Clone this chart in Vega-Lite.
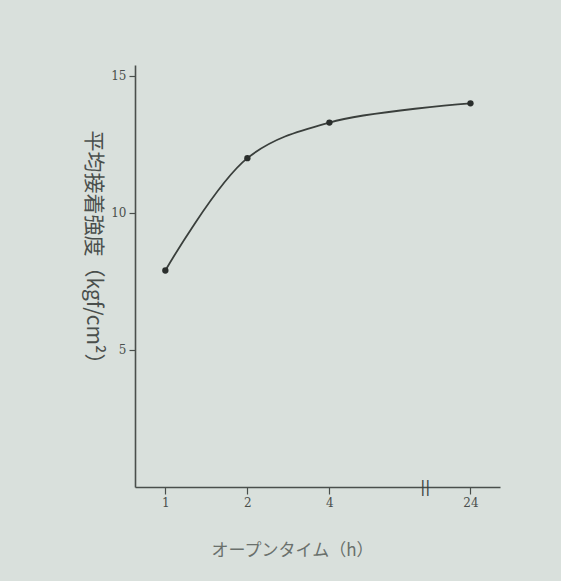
{
  "$schema": "https://vega.github.io/schema/vega-lite/v6.json",
  "width": 365,
  "height": 422,
  "autosize": {"type": "none"},
  "padding": {"left": 135, "top": 65, "right": 61, "bottom": 94},
  "background": "#d9e0dc",
  "config": {
    "view": {"stroke": null},
    "font": "Noto Sans CJK JP",
    "axis": {
      "domainColor": "#4a4f4c",
      "domainWidth": 1.6,
      "tickColor": "#4a4f4c",
      "tickWidth": 1.2,
      "grid": false,
      "labelColor": "#4a4f4c",
      "titleColor": "#5a605c",
      "labelFont": "DejaVu Serif",
      "titleFontWeight": "normal"
    }
  },
  "data": {
    "values": [
      {"hours": "1", "pos": 1, "strength": 7.9},
      {"hours": "2", "pos": 2, "strength": 12.0},
      {"hours": "4", "pos": 3, "strength": 13.3},
      {"hours": "24", "pos": 4.72, "strength": 14.0}
    ]
  },
  "layer": [
    {
      "mark": {"type": "line", "interpolate": "catmull-rom", "color": "#3a3f3c", "strokeWidth": 1.8},
      "encoding": {
        "x": {
          "field": "pos",
          "type": "quantitative",
          "scale": {"domain": [0.63, 5.08], "nice": false, "zero": false},
          "axis": {
            "values": [1, 2, 3, 4.72],
            "labelExpr": "datum.value == 1 ? '1' : datum.value == 2 ? '2' : datum.value == 3 ? '4' : '24'",
            "labelFontSize": 12,
            "tickSize": 7,
            "labelPadding": 3,
            "title": "オープンタイム（h）",
            "titleFontSize": 17,
            "titleColor": "#6a706c",
            "titleX": 157,
            "titleY": 55
          }
        },
        "y": {
          "field": "strength",
          "type": "quantitative",
          "scale": {"domain": [0, 15.4], "nice": false},
          "axis": {
            "values": [5, 10, 15],
            "labelFontSize": 12,
            "tickSize": 6,
            "labelPadding": 3,
            "title": "平均接着強度（kgf/cm²）",
            "titleFontSize": 21,
            "titleColor": "#4a4f4c",
            "titleAngle": 90,
            "titleX": -53,
            "titleY": 187
          }
        }
      }
    },
    {
      "mark": {"type": "point", "filled": true, "color": "#2a2e2c", "size": 40, "opacity": 1},
      "encoding": {
        "x": {"field": "pos", "type": "quantitative"},
        "y": {"field": "strength", "type": "quantitative"}
      }
    },
    {
      "data": {"values": [{"pos": 4.17, "strength": 0, "mark": "||"}]},
      "mark": {"type": "text", "color": "#3a3f3c", "fontSize": 15, "baseline": "middle", "font": "DejaVu Sans"},
      "encoding": {
        "x": {"field": "pos", "type": "quantitative"},
        "y": {"field": "strength", "type": "quantitative"},
        "text": {"field": "mark"}
      }
    }
  ]
}
